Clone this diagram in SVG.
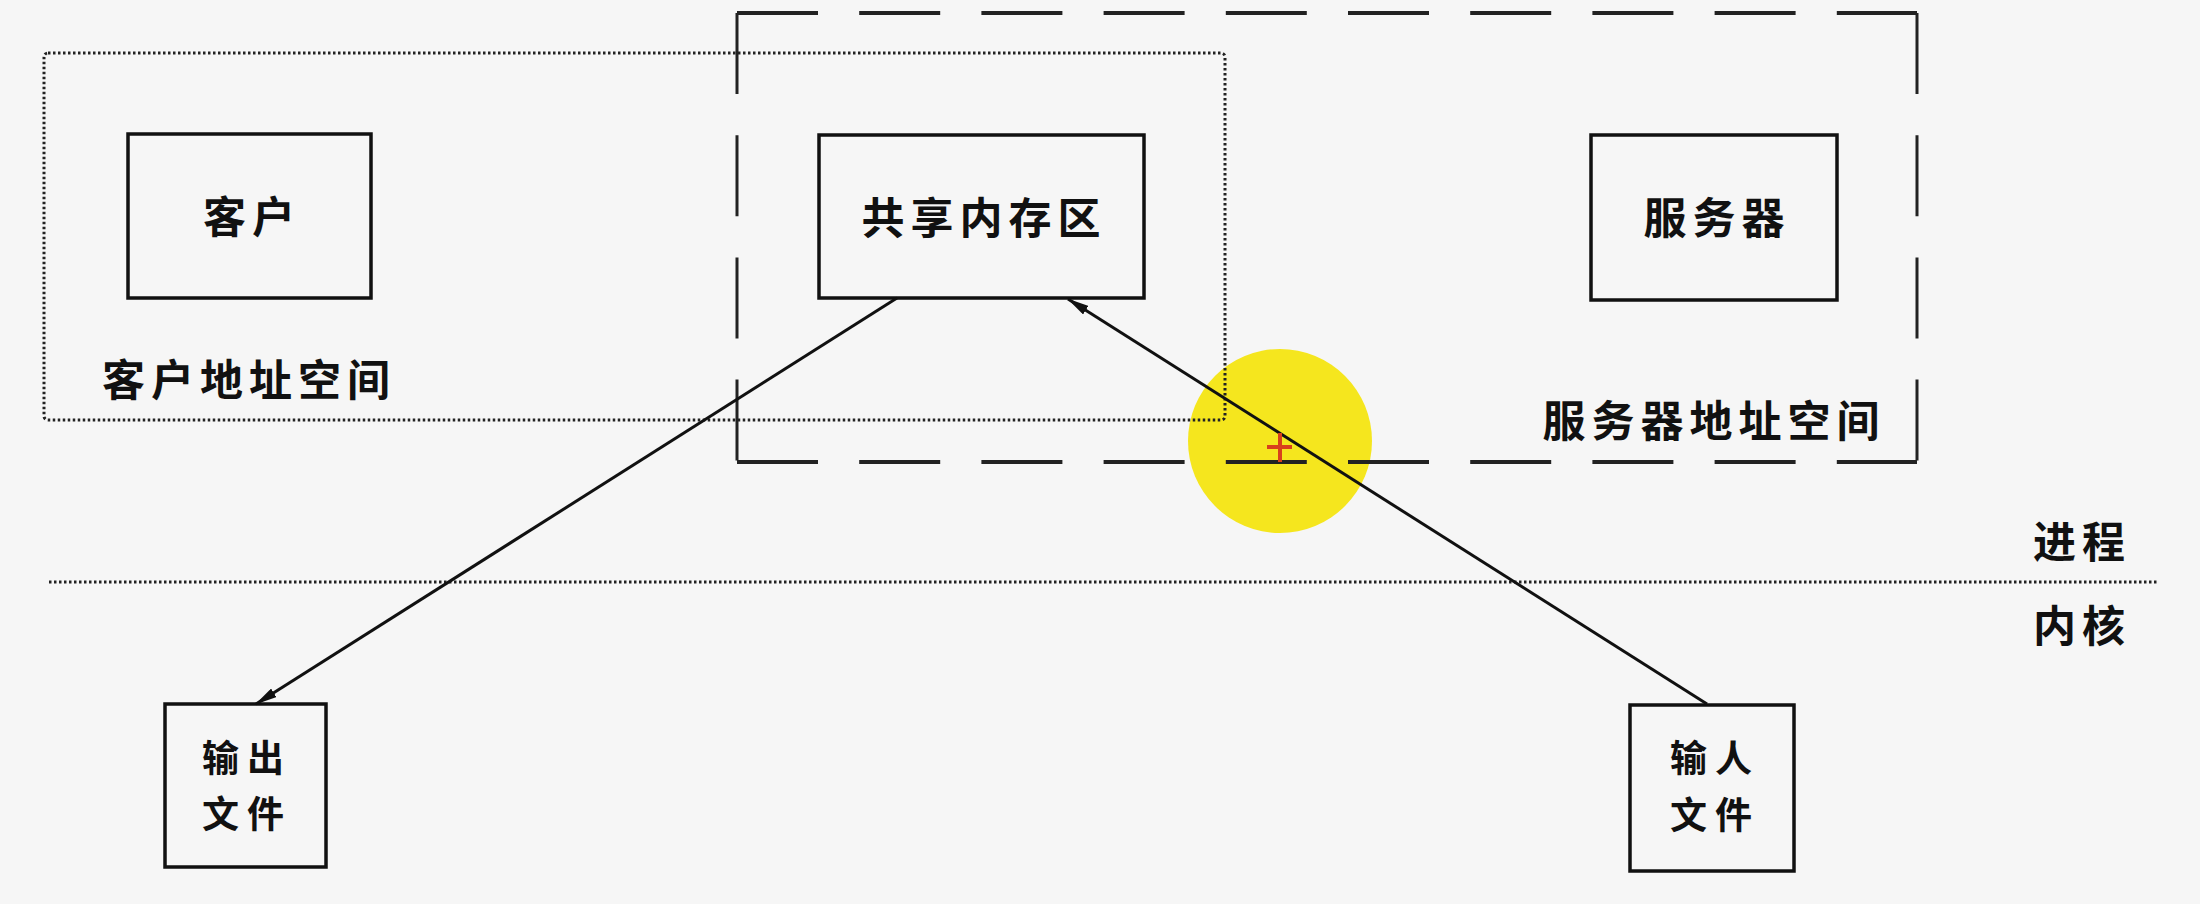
<svg xmlns="http://www.w3.org/2000/svg" width="2200" height="904" viewBox="0 0 2200 904">
<style>
.bg{fill:#f6f6f6}
.box{fill:none;stroke:#111;stroke-width:3.5}
.lbl{font-family:"Noto Sans CJK SC","Noto Sans",sans-serif;font-weight:700;font-size:43px;fill:#111;text-anchor:middle;letter-spacing:6px}
.sm{font-size:37px;letter-spacing:8px}
.dash{stroke:#222;stroke-width:4;stroke-dasharray:81 41.2;fill:none}
.dot{stroke:#222;stroke-width:3;stroke-dasharray:2.5 2.5;fill:none}
.conn{stroke:#111;stroke-width:3;fill:none}
</style>
<defs>
<marker id="arr" viewBox="0 0 22 10" refX="21" refY="5" markerWidth="22" markerHeight="10" markerUnits="userSpaceOnUse" orient="auto">
<path d="M0,0 L22,5 L0,10 Z" fill="#111"/>
</marker>
</defs>
<rect class="bg" x="0" y="0" width="2200" height="904"/>
<circle cx="1280" cy="441" r="92" fill="#f5e61e"/>
<g id="client-space">
<rect class="dot" x="44" y="53" width="1181" height="367" rx="4"/>
<text class="lbl" x="249" y="396">客户地址空间</text>
</g>
<g id="server-space">
<line class="dash" x1="737" y1="13" x2="1917" y2="13"/>
<line class="dash" x1="737" y1="462" x2="1917" y2="462"/>
<line class="dash" x1="737" y1="13" x2="737" y2="462" style="stroke-width:3"/>
<line class="dash" x1="1917" y1="13" x2="1917" y2="462" style="stroke-width:3"/>
<text class="lbl" x="1714" y="437">服务器地址空间</text>
</g>
<g id="divider">
<line class="dot" x1="49" y1="582" x2="2159" y2="582"/>
<text class="lbl" x="2082" y="558">进程</text>
<text class="lbl" x="2082" y="642">内核</text>
</g>
<g id="client">
<rect class="box" x="128" y="134" width="243" height="164"/>
<text class="lbl" x="252" y="233">客户</text>
</g>
<g id="shm">
<rect class="box" x="819" y="135" width="325" height="163"/>
<text class="lbl" x="984" y="234">共享内存区</text>
</g>
<g id="server">
<rect class="box" x="1591" y="135" width="246" height="165"/>
<text class="lbl" x="1717" y="234">服务器</text>
</g>
<g id="output-file">
<rect class="box" x="165" y="704" width="161" height="163"/>
<text class="lbl sm" x="247" y="772">输出</text>
<text class="lbl sm" x="247" y="828">文件</text>
</g>
<g id="input-file">
<rect class="box" x="1630" y="705" width="164" height="166"/>
<text class="lbl sm" x="1715" y="772">输人</text>
<text class="lbl sm" x="1715" y="829">文件</text>
</g>
<g id="connectors">
<line class="conn" x1="897" y1="298" x2="256" y2="704" marker-end="url(#arr)"/>
<line class="conn" x1="1707" y1="704" x2="1068" y2="299" marker-end="url(#arr)"/>
</g>
<g id="cursor" stroke="#d8401c" stroke-width="4">
<line x1="1267" y1="447" x2="1292" y2="447"/>
<line x1="1280" y1="433" x2="1280" y2="462"/>
</g>
</svg>
